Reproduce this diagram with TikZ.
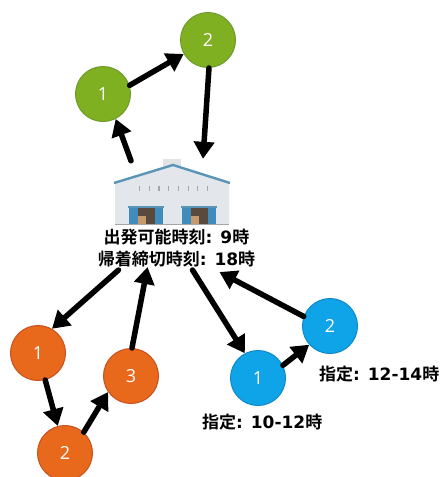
\documentclass[tikz,border=0pt]{standalone}
\usepackage{fontspec}
\setmainfont{DejaVu Sans}
\newfontfamily\jpf{Noto Sans CJK JP}[BoldFont={* Bold}]
\newfontfamily\numf{Open Sans}
\newcommand{\jj}[1]{{\jpf\bfseries #1}}
\usetikzlibrary{arrows.meta,calc}
\definecolor{grnF}{HTML}{7FB022}\definecolor{grnD}{HTML}{6E9A2C}
\definecolor{orgF}{HTML}{E8681C}\definecolor{orgD}{HTML}{C9501F}
\definecolor{bluF}{HTML}{0FA3E8}\definecolor{bluD}{HTML}{1088C8}
\definecolor{wall}{HTML}{E3E7EB}\definecolor{roof}{HTML}{5A94B6}
\definecolor{door}{HTML}{3F8BBB}\definecolor{inner}{HTML}{5A4A3E}\definecolor{crate}{HTML}{C49A6C}
\tikzset{
 x=1pt,y=-1pt,
 stop/.style={circle,minimum size=55pt,inner sep=0pt,line width=1pt,text=white,font=\numf\fontsize{18}{18}\selectfont},
 grn/.style={stop,fill=grnF,draw=grnD},
 org/.style={stop,fill=orgF,draw=orgD},
 blu/.style={stop,fill=bluF,draw=bluD},
 route/.style={line width=5.5pt,line cap=round,-{Triangle[length=17pt,width=20pt]}},
 lab/.style={font=\fontsize{17}{21.5}\selectfont\bfseries,align=center,inner sep=0pt},
}
\begin{document}
\begin{tikzpicture}
\useasboundingbox (0,0) rectangle (442,477);
% warehouse
\fill[wall!70!black!30!white] (163,159) rectangle (181,167);
\fill[wall] (115,183) -- (173,165) -- (229,183) -- (229,224) -- (115,224) -- cycle;
\draw[gray!70,line width=.6pt] (115,224) -- (229,224);
\draw[roof,line width=2.4pt] (114,183) -- (173,165) -- (230,183);
\foreach \i in {0,...,7}{\fill[gray!70] ({139+\i*9.7},186) rectangle ({140.2+\i*9.7},191);}
\foreach \d in {129,182}{
 \fill[door] (\d,208) rectangle ({\d+34},224);
 \fill[inner] ({\d+9},208) rectangle ({\d+26},224);
 \fill[crate] ({\d+9},216) rectangle ({\d+17},224);
 \fill[roof] ({\d-1},205.5) rectangle ({\d+35},207.5);
}
\node (wh) [minimum width=116pt,minimum height=66pt,inner sep=0pt] at (172,191) {};
\node (info) [lab] at (176.5,248) {\jj{出発可能時刻}: 9\jj{時}\\\jj{帰着締切時刻}: 18\jj{時}};
% stops
\node (g1) [grn] at (103,94) {1};
\node (g2) [grn] at (208,40) {2};
\node (o1) [org] at (38,353) {1};
\node (o2) [org] at (65,453) {2};
\node (o3) [org] at (131,376) {3};
\node (b1) [blu] at (258,378) {1};
\node (b2) [blu] at (330,326) {2};
\node (t1) [lab,anchor=west] at (202,422) {\jj{指定}: 10-12\jj{時}};
\node (t2) [lab,anchor=west] at (319,374) {\jj{指定}: 12-14\jj{時}};
% connector ends at the depot
\coordinate (wg1) at ($(wh.north)+(-41,3)$);
\coordinate (wg2) at ($(wh.north)+(31,1)$);
\coordinate (io1) at ($(info.south)+(-58,3)$);
\coordinate (io3) at ($(info.south)+(-29,0)$);
\coordinate (ib1) at ($(info.south)+(16,3)$);
\coordinate (ib2) at ($(info.south)+(43,5)$);
% connectors
\draw[route] (g1.18) -- (g2.210);
\draw[route] (g2.272) -- (wg2);
\draw[route] (wg1) -- (g1.297);
\draw[route] (io1) -- (o1.60);
\draw[route] (o1.285) -- (o2.105);
\draw[route] (o2.48) -- (o3.215);
\draw[route] (o3.88) -- (io3);
\draw[route] (ib1) -- (b1.118);
\draw[route] (b1.27) -- (b2.222);
\draw[route] (b2.160) -- (ib2);
\end{tikzpicture}
\end{document}
